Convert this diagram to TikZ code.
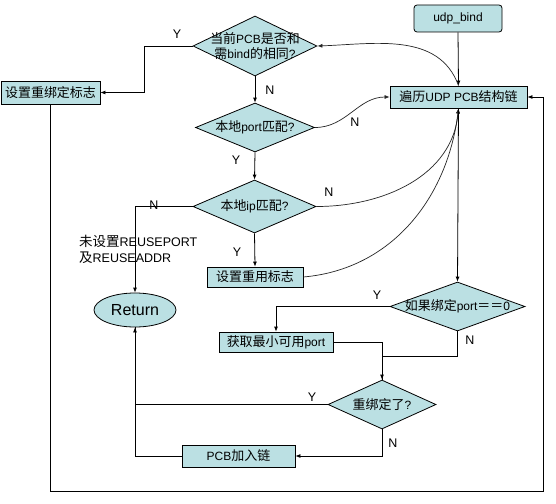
\documentclass[tikz,border=0pt]{standalone}
\usepackage{fontspec}
\setmainfont{Liberation Sans}
\newfontfamily\cjk[Scale=1.08]{Noto Sans CJK SC}
\usetikzlibrary{shapes.geometric,arrows.meta}
\newcommand\zh[1]{{\cjk #1}}
\definecolor{boxfill}{RGB}{187,224,227}
\begin{document}
\begin{tikzpicture}[x=1pt,y=-1pt,
  box/.style={draw, fill=boxfill, line width=0.8pt, inner sep=0pt, font=\fontsize{12}{14}\selectfont},
  dia/.style={draw, diamond, fill=boxfill, line width=0.8pt, inner sep=0pt},
  dtext/.style={inner sep=0pt, font=\fontsize{12}{15.5}\selectfont, align=center},
  lbl/.style={inner sep=0pt, font=\fontsize{12.5}{14}\selectfont},
  ln/.style={line width=0.8pt},
  arr/.style={line width=0.8pt, -{Latex[length=5pt,width=4pt]}},
  crv/.style={line width=0.7pt, black!85, -{Latex[length=5pt,width=4pt]}}]
\useasboundingbox (0,0) rectangle (556,503);
\fill[white] (0,0) rectangle (556,503);

% nodes
\node[box, rounded corners=3pt, minimum width=88pt, minimum height=27pt] (udp) at (458,18.5) {udp\_bind};
\node[box, minimum width=137pt, minimum height=22pt] (trav) at (458.5,97) {\zh{遍历}UDP PCB\zh{结构链}};
\node[dia, minimum width=124pt, minimum height=60pt] (d1) at (255,46) {};
\node[dtext] (d1t) at (d1) {\zh{当前}PCB\zh{是否和}\\\zh{需}bind\zh{的相同}?};
\node[box, minimum width=99pt, minimum height=23pt] (rebind) at (50.5,92.5) {\zh{设置重绑定标志}};
\node[dia, minimum width=119pt, minimum height=49pt] (d2) at (255,127.5) {};
\node[dtext] (d2t) at (d2) {\zh{本地}port\zh{匹配}?};
\node[dia, minimum width=123pt, minimum height=53pt] (d3) at (254.5,206.5) {};
\node[dtext] (d3t) at (d3) {\zh{本地}ip\zh{匹配}?};
\node[box, minimum width=96pt, minimum height=20pt] (reuse) at (255,277) {\zh{设置重用标志}};
\node[draw, ellipse, fill=boxfill, line width=0.8pt, inner sep=0pt, minimum width=82pt, minimum height=34pt, font=\fontsize{16}{18}\selectfont] (ret) at (135,310) {Return};
\node[dia, minimum width=135pt, minimum height=49pt] (d4) at (457.5,306.5) {};
\node[dtext] (d4t) at (d4) {\zh{如果绑定}port\zh{＝＝}0};
\node[box, minimum width=114pt, minimum height=20pt] (getp) at (276,342) {\zh{获取最小可用}port};
\node[dia, minimum width=108pt, minimum height=49pt] (d5) at (382,404.5) {};
\node[dtext] (d5t) at (d5) {\zh{重绑定了}?};
\node[box, minimum width=113pt, minimum height=22pt] (pcb) at (238.5,456) {PCB\zh{加入链}};
\node[lbl, anchor=west, align=left, font=\fontsize{12.5}{16}\selectfont] (note) at (79,249) {\zh{未设置}REUSEPORT\\\zh{及}REUSEADDR};

% labels
\node[lbl] (y1) at (177,34) {Y};
\node[lbl] (n1) at (270,90) {N};
\node[lbl] (n2) at (355,122) {N};
\node[lbl] (y2) at (236,160) {Y};
\node[lbl] (n3) at (329,192) {N};
\node[lbl] (n4) at (154,205) {N};
\node[lbl] (y3) at (237,252) {Y};
\node[lbl] (y4) at (377,295) {Y};
\node[lbl] (n5) at (470,340) {N};
\node[lbl] (y5) at (312,397) {Y};
\node[lbl] (n6) at (393,443) {N};

\coordinate (loopc) at (543,491);

% connectors
\draw[arr] (udp.south) -- (trav.north);
\draw[crv] (trav.north) to[out=110,in=2] (d1.east);
\draw[arr] (d1.west) -- ++(-48,0) |- (rebind.east);
\draw[arr] (d1.south) -- (d2.north);
\draw[crv] (d2.east) to[out=0,in=180] (trav.west);
\draw[arr] (d2.south) -- (d3.north);
\draw[crv] (d3.east) to[out=0,in=-95] (trav.south);
\draw[arr] (d3.west) -| (ret.north);
\draw[arr] (d3.south) -- (reuse.north);
\draw[crv] (reuse.east) to[out=5,in=-97] (trav.south);
\draw[arr] (trav.south) -- (d4.north);
\draw[arr] (d4.west) -| (getp.north);
\draw[arr] (getp.east) -| (d5.north);
\draw[ln] (d4.south) -- ++(0,24.5) -| (d5.north);
\draw[arr] (d5.west) -| (ret.south);
\draw[arr] (d5.south) |- (pcb.east);
\draw[ln] (pcb.west) -| (ret.south);
\draw[arr] (rebind.south) |- (loopc) |- (trav.east);
\end{tikzpicture}
\end{document}
